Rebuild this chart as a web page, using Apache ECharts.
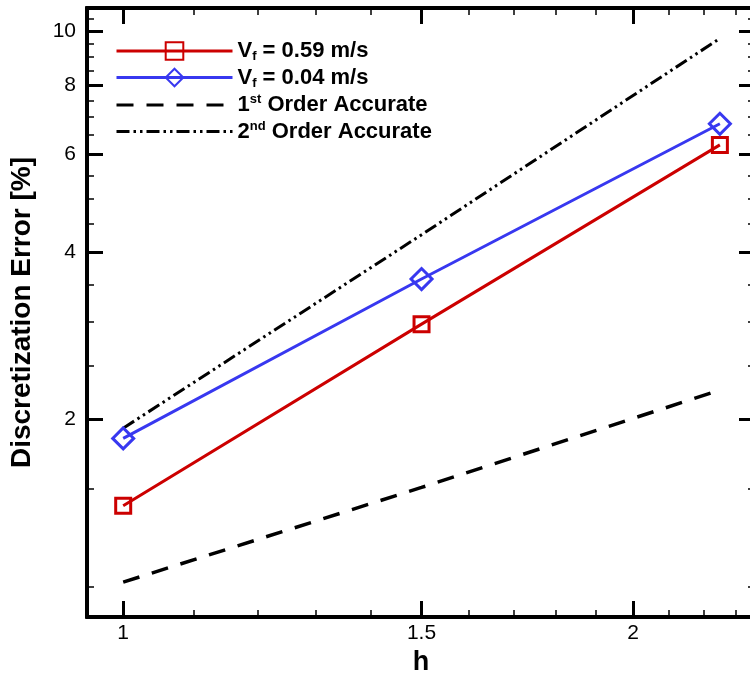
<!DOCTYPE html>
<html><head><meta charset="utf-8">
<script src="https://cdn.jsdelivr.net/npm/echarts@6/dist/echarts.min.js"></script>
<style>html,body{margin:0;padding:0;background:#fff}#c{width:750px;height:673px}</style>
</head><body><div id="c"></div>
<script>
var hValues = [1, 1.5, 2.25];
var redVals = [1.40, 2.97, 6.24];
var blueVals = [1.85, 3.58, 6.81];
var firstOrder = [1.02, 1.51, 2.26];
var secondOrder = [1.93, 4.3, 9.7];
var xMajor = [1, 1.5, 2];
var xMinor = [1.1, 1.2, 1.3, 1.4, 1.6, 1.7, 1.8, 1.9, 2.1, 2.2, 2.3];
var yMajor = [2, 4, 6, 8, 10];
var yMinor = [1, 1.5, 2.5, 3, 3.5, 4.5, 5, 5.5, 6.5, 7, 7.5, 8.5, 9, 9.5, 10.5];
var names = ['Vf059', 'Vf004', 'first', 'second'];

var FONT = 'Arial, "Liberation Sans", sans-serif';
var xMin = 0.952, xMax = 2.36, yMin = 0.883, yMax = 11.0;
function pairs(xs, ys){ return xs.map(function(x,i){return [x, ys[i]];}); }

function xAx(pos, major, show){
  return {type:'log', logBase:10, min:xMin, max:xMax, position:pos, gridIndex:0,
    axisLine:{show:true, onZero:false, lineStyle:{color:'#000', width:4}},
    axisTick:{show:true, inside:true, length: major?16:7, customValues: major?xMajor:xMinor, lineStyle:{color:'#000', width: major?3:1.5}},
    axisLabel:{show:show, customValues:xMajor, color:'#000', fontSize:21, fontFamily:FONT, margin:6},
    splitLine:{show:false}, minorTick:{show:false}};
}
function yAx(pos, major, show){
  return {type:'log', logBase:10, min:yMin, max:yMax, position:pos, gridIndex:0,
    axisLine:{show:true, onZero:false, lineStyle:{color:'#000', width:4}},
    axisTick:{show:true, inside:true, length: major?16:7, customValues: major?yMajor:yMinor, lineStyle:{color:'#000', width: major?3:1.5}},
    axisLabel:{show:show, customValues:yMajor, color:'#000', fontSize:21, fontFamily:FONT, margin:11},
    splitLine:{show:false}, minorTick:{show:false}};
}
var xAxes = [xAx('bottom', true, true), xAx('bottom', false, false), xAx('top', true, false), xAx('top', false, false)];
xAxes[0].name = 'h'; xAxes[0].nameLocation = 'middle'; xAxes[0].nameGap = 31;
xAxes[0].nameTextStyle = {color:'#000', fontSize:27, fontWeight:'bold', fontFamily:FONT};
var yAxes = [yAx('left', true, true), yAx('left', false, false), yAx('right', true, false), yAx('right', false, false)];
yAxes[0].name = 'Discretization Error [%]'; yAxes[0].nameLocation = 'middle'; yAxes[0].nameGap = 51; yAxes[0].nameRotate = 90;
yAxes[0].nameTextStyle = {color:'#000', fontSize:28, fontWeight:'bold', fontFamily:FONT};

var rich = {
  a:{fontSize:22, fontWeight:'bold', fontFamily:FONT, color:'#000', lineHeight:24},
  sub:{fontSize:13, fontWeight:'bold', fontFamily:FONT, color:'#000', lineHeight:12, verticalAlign:'bottom'},
  sup:{fontSize:13, fontWeight:'bold', fontFamily:FONT, color:'#000', lineHeight:12, verticalAlign:'top'}
};
var labelMap = {
  Vf059:'{a|V}{sub|f}{a| = 0.59 m/s}',
  Vf004:'{a|V}{sub|f}{a| = 0.04 m/s}',
  first:'{a|1}{sup|st}{a| Order Accurate}',
  second:'{a|2}{sup|nd}{a| Order Accurate}'
};

var option = {
  animation:false,
  backgroundColor:'#fff',
  grid:{left:87, top:8, right:-5, bottom:56, containLabel:false, outerBoundsMode:'none'},
  xAxis:xAxes,
  yAxis:yAxes,
  legend:{show:true, orient:'vertical', left:115, top:40, padding:0, itemWidth:116, itemHeight:22, itemGap:3.5,
    data:names, formatter:function(n){return labelMap[n];}, textStyle:{rich:rich},
    lineStyle:{width:3}},
  series:[
    {name:names[0], type:'line', data:pairs(hValues, redVals), symbol:'rect', symbolSize:15,
      lineStyle:{color:'#cc0000', width:3}, itemStyle:{color:'rgba(0,0,0,0)', borderColor:'#cc0000', borderWidth:3}, z:4},
    {name:names[1], type:'line', data:pairs(hValues, blueVals), symbol:'diamond', symbolSize:21,
      lineStyle:{color:'#3838f0', width:3}, itemStyle:{color:'rgba(0,0,0,0)', borderColor:'#3838f0', borderWidth:3}, z:4},
    {name:names[2], type:'line', data:pairs(hValues, firstOrder), symbol:'circle', showSymbol:false,
      lineStyle:{color:'#000', width:3.5, type:[17,13]}, itemStyle:{color:'rgba(0,0,0,0)', borderWidth:0}},
    {name:names[3], type:'line', data:pairs(hValues, secondOrder), symbol:'circle', showSymbol:false,
      lineStyle:{color:'#000', width:3, type:[13,4,2.5,4,2.5,4]}, itemStyle:{color:'rgba(0,0,0,0)', borderWidth:0}}
  ]
};
var chart = echarts.init(document.getElementById('c'), null, {renderer:'canvas'});
chart.setOption(option);
</script></body></html>
